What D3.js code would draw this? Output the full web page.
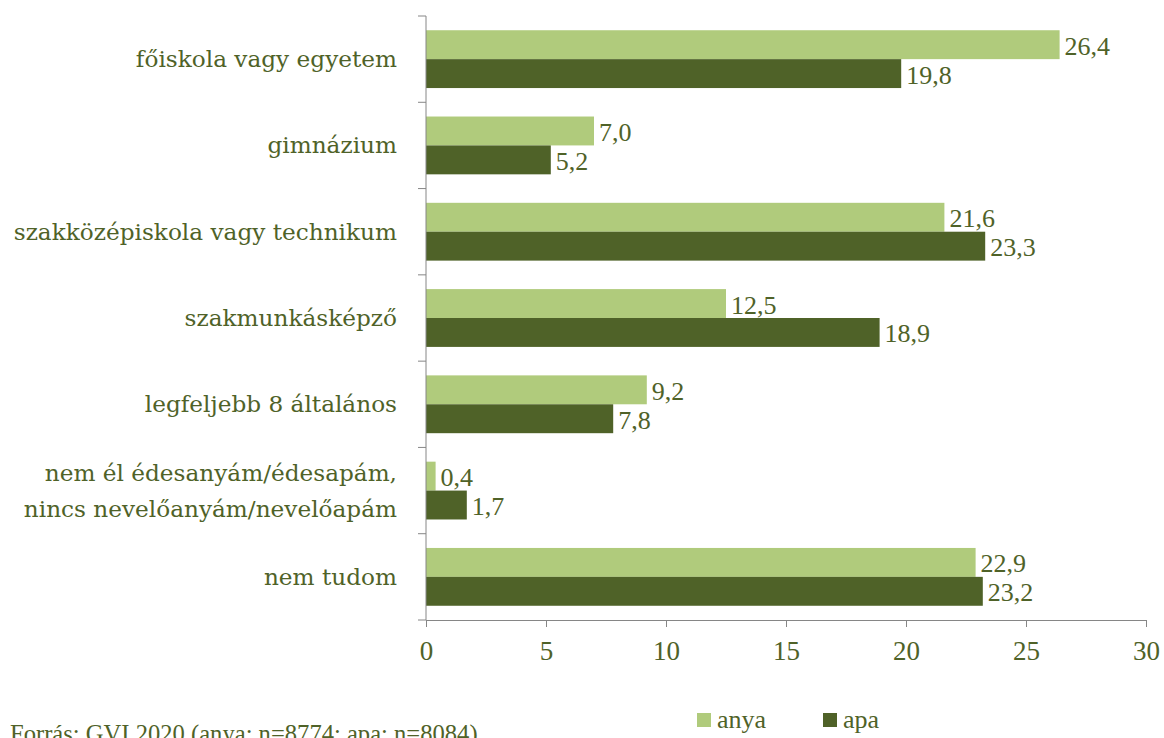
<!doctype html>
<html>
<head>
<meta charset="utf-8">
<style>
    body { margin: 0; background: #fff; }
    text { font-family: "Liberation Serif", "DejaVu Serif", serif; fill: #4f6228; }
    text.cat { font-family: "DejaVu Serif", serif; }
</style>
<script src="https://d3js.org/d3.v7.min.js"></script>
</head>
<body>
<svg width="1164" height="738"></svg>
<script>
var categories = [
    ["főiskola vagy egyetem"],
    ["gimnázium"],
    ["szakközépiskola vagy technikum"],
    ["szakmunkásképző"],
    ["legfeljebb 8 általános"],
    ["nem él édesanyám/édesapám,", "nincs nevelőanyám/nevelőapám"],
    ["nem tudom"]
];
var series = ["anya", "apa"];
var anya = [26.4, 7.0, 21.6, 12.5, 9.2, 0.4, 22.9];
var apa = [19.8, 5.2, 23.3, 18.9, 7.8, 1.7, 23.2];
var xTicks = [0, 5, 10, 15, 20, 25, 30];
var source = "Forrás: GVI 2020 (anya: n=8774; apa: n=8084)";

var colors = { anya: "#b0cb7c", apa: "#4f6228" };

var svg = d3.select("svg"),
    plotLeft = 426, plotRight = 1146, plotTop = 16, plotBottom = 620;

var keys = categories.map(function(d, i) { return i; });

var x = d3.scaleLinear().domain([0, 30]).range([plotLeft, plotRight]);
var y = d3.scaleBand().domain(keys).range([plotTop, plotBottom]).paddingInner(0.33).paddingOuter(0.165);
var yBand = d3.scaleBand().domain(keys).range([plotTop, plotBottom]);
var ySub = d3.scaleBand().domain(series).range([0, y.bandwidth()]);

var data = [];
keys.forEach(function(i) {
    data.push({ cat: i, s: "anya", v: anya[i] });
    data.push({ cat: i, s: "apa", v: apa[i] });
});

svg.selectAll("rect.bar")
   .data(data)
   .enter().append("rect")
   .attr("class", "bar")
   .attr("x", x(0))
   .attr("y", function(d) { return y(d.cat) + ySub(d.s); })
   .attr("width", function(d) { return x(d.v) - x(0); })
   .attr("height", ySub.bandwidth())
   .attr("fill", function(d) { return colors[d.s]; });

svg.selectAll("text.val")
   .data(data)
   .enter().append("text")
   .attr("class", "val")
   .attr("x", function(d) { return x(d.v) + 5; })
   .attr("y", function(d) { return y(d.cat) + ySub(d.s) + ySub.bandwidth() / 2 + 10; })
   .attr("font-size", "26px")
   .text(function(d) { return d.v.toFixed(1).replace(".", ","); });

// y axis: line with ticks at category boundaries
var yAxis = svg.append("g");
yAxis.append("line")
     .attr("x1", x(0)).attr("x2", x(0))
     .attr("y1", plotTop).attr("y2", plotBottom)
     .attr("stroke", "#868686");
yAxis.selectAll("line.tk")
     .data(d3.range(categories.length + 1))
     .enter().append("line")
     .attr("class", "tk")
     .attr("x1", x(0) - 8).attr("x2", x(0))
     .attr("y1", function(i) { return i < categories.length ? yBand(i) : plotBottom; })
     .attr("y2", function(i) { return i < categories.length ? yBand(i) : plotBottom; })
     .attr("stroke", "#868686");

// category labels
svg.selectAll("text.cat")
   .data(keys)
   .enter().append("text")
   .attr("class", "cat")
   .attr("text-anchor", "end")
   .attr("font-size", "23.2px")
   .each(function(i) {
       var lines = categories[i];
       var cy = yBand(i) + yBand.bandwidth() / 2;
       var t = d3.select(this);
       lines.forEach(function(l, k) {
           t.append("tspan")
            .attr("x", 397)
            .attr("y", cy + 8 + (k - (lines.length - 1) / 2) * 36)
            .text(l);
       });
   });

// x axis
var xAxis = svg.append("g")
   .attr("transform", "translate(0," + plotBottom + ")")
   .call(d3.axisBottom(x).tickValues(xTicks).tickSize(7).tickPadding(14).tickSizeOuter(0));
xAxis.select(".domain").attr("stroke", "#868686");
xAxis.selectAll(".tick line").attr("stroke", "#868686");
xAxis.selectAll(".tick text")
     .attr("font-size", "27px")
     .attr("font-family", "Liberation Serif")
     .attr("fill", "#4f6228");

// source
svg.append("text")
   .attr("x", 10).attr("y", 742)
   .attr("font-size", "24.6px")
   .text(source);

// legend
var legend = svg.selectAll("g.leg")
   .data(series)
   .enter().append("g")
   .attr("class", "leg")
   .attr("transform", function(d, i) { return "translate(" + (697 + i * 126) + ",713)"; });
legend.append("rect")
      .attr("width", 14).attr("height", 14)
      .attr("fill", function(d) { return colors[d]; });
legend.append("text")
      .attr("x", 20).attr("y", 15)
      .attr("font-size", "26px")
      .text(function(d) { return d; });
</script>
</body>
</html>
